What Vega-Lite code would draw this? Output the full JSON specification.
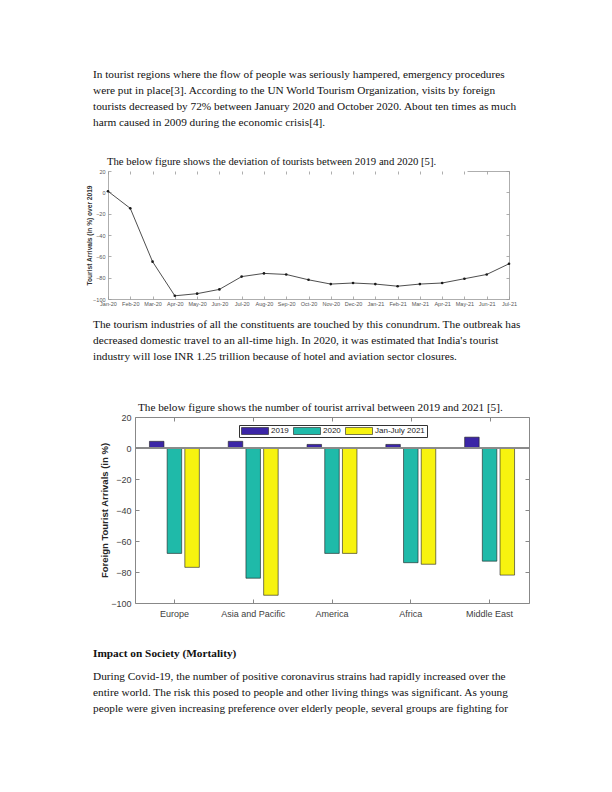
{
  "$schema": "https://vega.github.io/schema/vega-lite/v6.json",
  "background": "white",
  "padding": {"left": 0, "top": 67, "right": 0, "bottom": 0},
  "spacing": 0,
  "resolve": {"scale": {"color": "independent"}},
  "config": {"view": {"stroke": null}, "axis": {"grid": false}, "concat": {"spacing": 0}},
  "vconcat": [
    {"spacing": 0, "hconcat": [
      {"width": 93, "height": 1, "data": {"values": []}, "mark": "point"},
      {"width": 430, "height": 64,
       "data": {"values": [
         {"i": 0, "t": "In tourist regions where the flow of people was seriously hampered, emergency procedures"},
         {"i": 1, "t": "were put in place[3]. According to the UN World Tourism Organization, visits by foreign"},
         {"i": 2, "t": "tourists decreased by 72% between January 2020 and October 2020. About ten times as much"},
         {"i": 3, "t": "harm caused in 2009 during the economic crisis[4]."}
       ]},
       "mark": {"type": "text", "align": "left", "baseline": "middle", "font": "Liberation Serif", "fontSize": 11.3, "color": "#111"},
       "encoding": {
         "x": {"datum": 0, "type": "quantitative", "scale": {"domain": [0, 1]}, "axis": null},
         "y": {"field": "i", "type": "ordinal", "scale": {"type": "point", "padding": 0.5}, "axis": null},
         "text": {"field": "t"}
       }}
    ]},
    {"width": 1, "height": 25, "data": {"values": []}, "mark": "point"},
    {"spacing": 0, "hconcat": [
      {"width": 86, "height": 1, "data": {"values": []}, "mark": "point"},
      {"width": 401, "height": 128,
       "title": {"text": "The below figure shows the deviation of tourists between 2019 and 2020 [5].", "anchor": "start", "frame": "group", "font": "Liberation Serif", "fontSize": 10.7, "fontWeight": "normal", "color": "#111", "offset": 1, "dx": -1},
       "data": {"values": [
         {"month": "Jan-20", "value": 1}, {"month": "Feb-20", "value": -15}, {"month": "Mar-20", "value": -65},
         {"month": "Apr-20", "value": -97}, {"month": "May-20", "value": -95}, {"month": "Jun-20", "value": -91},
         {"month": "Jul-20", "value": -79}, {"month": "Aug-20", "value": -76}, {"month": "Sep-20", "value": -77},
         {"month": "Oct-20", "value": -82}, {"month": "Nov-20", "value": -86}, {"month": "Dec-20", "value": -85},
         {"month": "Jan-21", "value": -86}, {"month": "Feb-21", "value": -88}, {"month": "Mar-21", "value": -86},
         {"month": "Apr-21", "value": -85}, {"month": "May-21", "value": -81}, {"month": "Jun-21", "value": -77},
         {"month": "Jul-21", "value": -67}
       ]},
       "layer": [
         {"mark": {"type": "line", "color": "#3a3a3a", "strokeWidth": 0.9, "point": {"filled": true, "size": 7, "color": "#1a1a1a"}},
          "encoding": {
            "x": {"field": "month", "type": "ordinal", "sort": null, "scale": {"padding": 0},
                  "axis": {"title": null, "labelAngle": 0, "labelFont": "Liberation Sans", "labelFontSize": 5.5, "labelColor": "#555", "labelOverlap": false, "labelPadding": 5.6, "tickSize": -3, "tickColor": "#999", "tickWidth": 0.8, "domainColor": "#999", "domainWidth": 0.8}},
            "y": {"field": "value", "type": "quantitative", "scale": {"domain": [-100, 20], "nice": false},
                  "axis": {"title": "Tourist Arrivals (in %) over 2019", "values": [20, 0, -20, -40, -60, -80, -100], "labelFont": "Liberation Sans", "labelFontSize": 5.5, "labelColor": "#555", "labelPadding": 6, "tickSize": -3, "tickColor": "#999", "tickWidth": 0.8, "domainColor": "#999", "domainWidth": 0.8, "titleFont": "Liberation Sans", "titleFontSize": 6.6, "titleFontWeight": "bold", "titleColor": "#333", "titlePadding": 0}}
          }},
         {"mark": {"type": "point", "opacity": 0},
          "encoding": {
            "x": {"field": "month", "type": "ordinal", "sort": null, "scale": {"padding": 0},
                  "axis": {"orient": "top", "title": null, "labels": false, "tickSize": -3, "tickColor": "#999", "tickWidth": 0.8, "domainColor": "#999", "domainWidth": 0.8, "domainDash": [0, 359, 42]}},
            "y": {"field": "value", "type": "quantitative", "scale": {"domain": [-100, 20], "nice": false},
                  "axis": {"orient": "right", "title": null, "labels": false, "values": [20, 0, -20, -40, -60, -80, -100], "tickSize": -3, "tickColor": "#999", "tickWidth": 0.8, "domainColor": "#999", "domainWidth": 0.8}}
          }}
       ],
       "resolve": {"scale": {"x": "independent", "y": "independent"}}}
    ]},
    {"width": 1, "height": 9, "data": {"values": []}, "mark": "point"},
    {"spacing": 0, "hconcat": [
      {"width": 93, "height": 1, "data": {"values": []}, "mark": "point"},
      {"width": 430, "height": 48,
       "data": {"values": [
         {"i": 0, "t": "The tourism industries of all the constituents are touched by this conundrum. The outbreak has"},
         {"i": 1, "t": "decreased domestic travel to an all-time high. In 2020, it was estimated that India's tourist"},
         {"i": 2, "t": "industry will lose INR 1.25 trillion because of hotel and aviation sector closures."}
       ]},
       "mark": {"type": "text", "align": "left", "baseline": "middle", "font": "Liberation Serif", "fontSize": 11.3, "color": "#111"},
       "encoding": {
         "x": {"datum": 0, "type": "quantitative", "scale": {"domain": [0, 1]}, "axis": null},
         "y": {"field": "i", "type": "ordinal", "scale": {"type": "point", "padding": 0.5}, "axis": null},
         "text": {"field": "t"}
       }}
    ]},
    {"width": 1, "height": 36, "data": {"values": []}, "mark": "point"},
    {"spacing": 0, "resolve": {"scale": {"color": "independent"}}, "hconcat": [
      {"width": 99, "height": 1, "data": {"values": []}, "mark": "point"},
      {"width": 394, "height": 186,
       "title": {"text": "The below figure shows the number of tourist arrival between 2019 and 2021 [5].", "anchor": "start", "frame": "group", "font": "Liberation Serif", "fontSize": 11.2, "fontWeight": "normal", "color": "#111", "offset": 0, "dx": 3},
       "data": {"values": [
         {"region": "Europe", "series": "2019", "value": 4.3},
         {"region": "Europe", "series": "2020", "value": -68},
         {"region": "Europe", "series": "Jan-July 2021", "value": -77},
         {"region": "Asia and Pacific", "series": "2019", "value": 4.3},
         {"region": "Asia and Pacific", "series": "2020", "value": -84},
         {"region": "Asia and Pacific", "series": "Jan-July 2021", "value": -95},
         {"region": "America", "series": "2019", "value": 2.3},
         {"region": "America", "series": "2020", "value": -68},
         {"region": "America", "series": "Jan-July 2021", "value": -68},
         {"region": "Africa", "series": "2019", "value": 2.3},
         {"region": "Africa", "series": "2020", "value": -74},
         {"region": "Africa", "series": "Jan-July 2021", "value": -75},
         {"region": "Middle East", "series": "2019", "value": 7},
         {"region": "Middle East", "series": "2020", "value": -73},
         {"region": "Middle East", "series": "Jan-July 2021", "value": -82}
       ]},
       "layer": [
         {"mark": {"type": "bar", "stroke": "#1e1e1e", "strokeWidth": 0.6},
          "encoding": {
            "x": {"field": "region", "type": "nominal", "sort": null, "scale": {"paddingInner": 0, "paddingOuter": 0},
                  "axis": {"title": null, "labelAngle": 0, "labelFont": "Liberation Sans", "labelFontSize": 9, "labelColor": "#404040", "labelPadding": 10, "tickSize": -4, "tickColor": "#888", "domainColor": "#888"}},
            "xOffset": {"field": "series", "type": "nominal", "sort": null, "scale": {"paddingInner": 0.18, "paddingOuter": 0.816}},
            "y": {"field": "value", "type": "quantitative", "scale": {"domain": [-100, 20], "nice": false},
                  "axis": {"title": "Foreign Tourist Arrivals (in %)", "values": [20, 0, -20, -40, -60, -80, -100], "labelFont": "Liberation Sans", "labelFontSize": 9, "labelColor": "#404040", "labelPadding": 8, "tickSize": -4, "tickColor": "#888", "domainColor": "#888", "titleFont": "Liberation Sans", "titleFontSize": 9.5, "titleFontWeight": "bold", "titleColor": "#262626", "titlePadding": 1.5}},
            "color": {"field": "series", "type": "nominal", "sort": null,
                      "scale": {"range": ["#3b25a6", "#1fbaa9", "#f7f30f"]},
                      "legend": {"title": null, "orient": "none", "legendX": 104, "legendY": 8, "direction": "horizontal", "symbolType": "M-1,-0.26H1V0.26H-1Z", "symbolSize": 729, "clipHeight": 8, "symbolStrokeColor": "#1e1e1e", "symbolStrokeWidth": 0.6, "symbolOpacity": 1, "labelFont": "Liberation Sans", "labelFontSize": 8, "labelColor": "#222", "labelOffset": 2, "columnPadding": 4, "padding": 2, "strokeColor": "#333", "fillColor": "white"}}
          }},
         {"mark": {"type": "rule", "color": "#8c8c8c", "strokeWidth": 0.8},
          "encoding": {"y": {"datum": 0, "type": "quantitative", "scale": {"domain": [-100, 20], "nice": false}, "axis": null}}},
         {"mark": {"type": "point", "opacity": 0},
          "encoding": {
            "x": {"field": "region", "type": "nominal", "sort": null, "scale": {"paddingInner": 0, "paddingOuter": 0},
                  "axis": {"orient": "top", "title": null, "labels": false, "tickSize": -4, "tickColor": "#888", "domainColor": "#888"}},
            "y": {"field": "value", "type": "quantitative", "scale": {"domain": [-100, 20], "nice": false},
                  "axis": {"orient": "right", "title": null, "labels": false, "values": [20, 0, -20, -40, -60, -80, -100], "tickSize": -4, "tickColor": "#888", "domainColor": "#888"}}
          }}
       ],
       "resolve": {"scale": {"x": "independent", "y": "independent"}}}
    ]},
    {"width": 1, "height": 28, "data": {"values": []}, "mark": "point"},
    {"spacing": 0, "hconcat": [
      {"width": 93, "height": 1, "data": {"values": []}, "mark": "point"},
      {"width": 430, "height": 16,
       "data": {"values": [{"i": 0, "t": "Impact on Society (Mortality)"}]},
       "mark": {"type": "text", "align": "left", "baseline": "middle", "font": "Liberation Serif", "fontSize": 11.3, "fontWeight": "bold", "color": "#111"},
       "encoding": {
         "x": {"datum": 0, "type": "quantitative", "scale": {"domain": [0, 1]}, "axis": null},
         "y": {"field": "i", "type": "ordinal", "scale": {"type": "point", "padding": 0.5}, "axis": null},
         "text": {"field": "t"}
       }}
    ]},
    {"width": 1, "height": 7, "data": {"values": []}, "mark": "point"},
    {"spacing": 0, "hconcat": [
      {"width": 93, "height": 1, "data": {"values": []}, "mark": "point"},
      {"width": 430, "height": 48,
       "data": {"values": [
         {"i": 0, "t": "During Covid-19, the number of positive coronavirus strains had rapidly increased over the"},
         {"i": 1, "t": "entire world. The risk this posed to people and other living things was significant. As young"},
         {"i": 2, "t": "people were given increasing preference over elderly people, several groups are fighting for"}
       ]},
       "mark": {"type": "text", "align": "left", "baseline": "middle", "font": "Liberation Serif", "fontSize": 11.3, "color": "#111"},
       "encoding": {
         "x": {"datum": 0, "type": "quantitative", "scale": {"domain": [0, 1]}, "axis": null},
         "y": {"field": "i", "type": "ordinal", "scale": {"type": "point", "padding": 0.5}, "axis": null},
         "text": {"field": "t"}
       }}
    ]}
  ]
}
